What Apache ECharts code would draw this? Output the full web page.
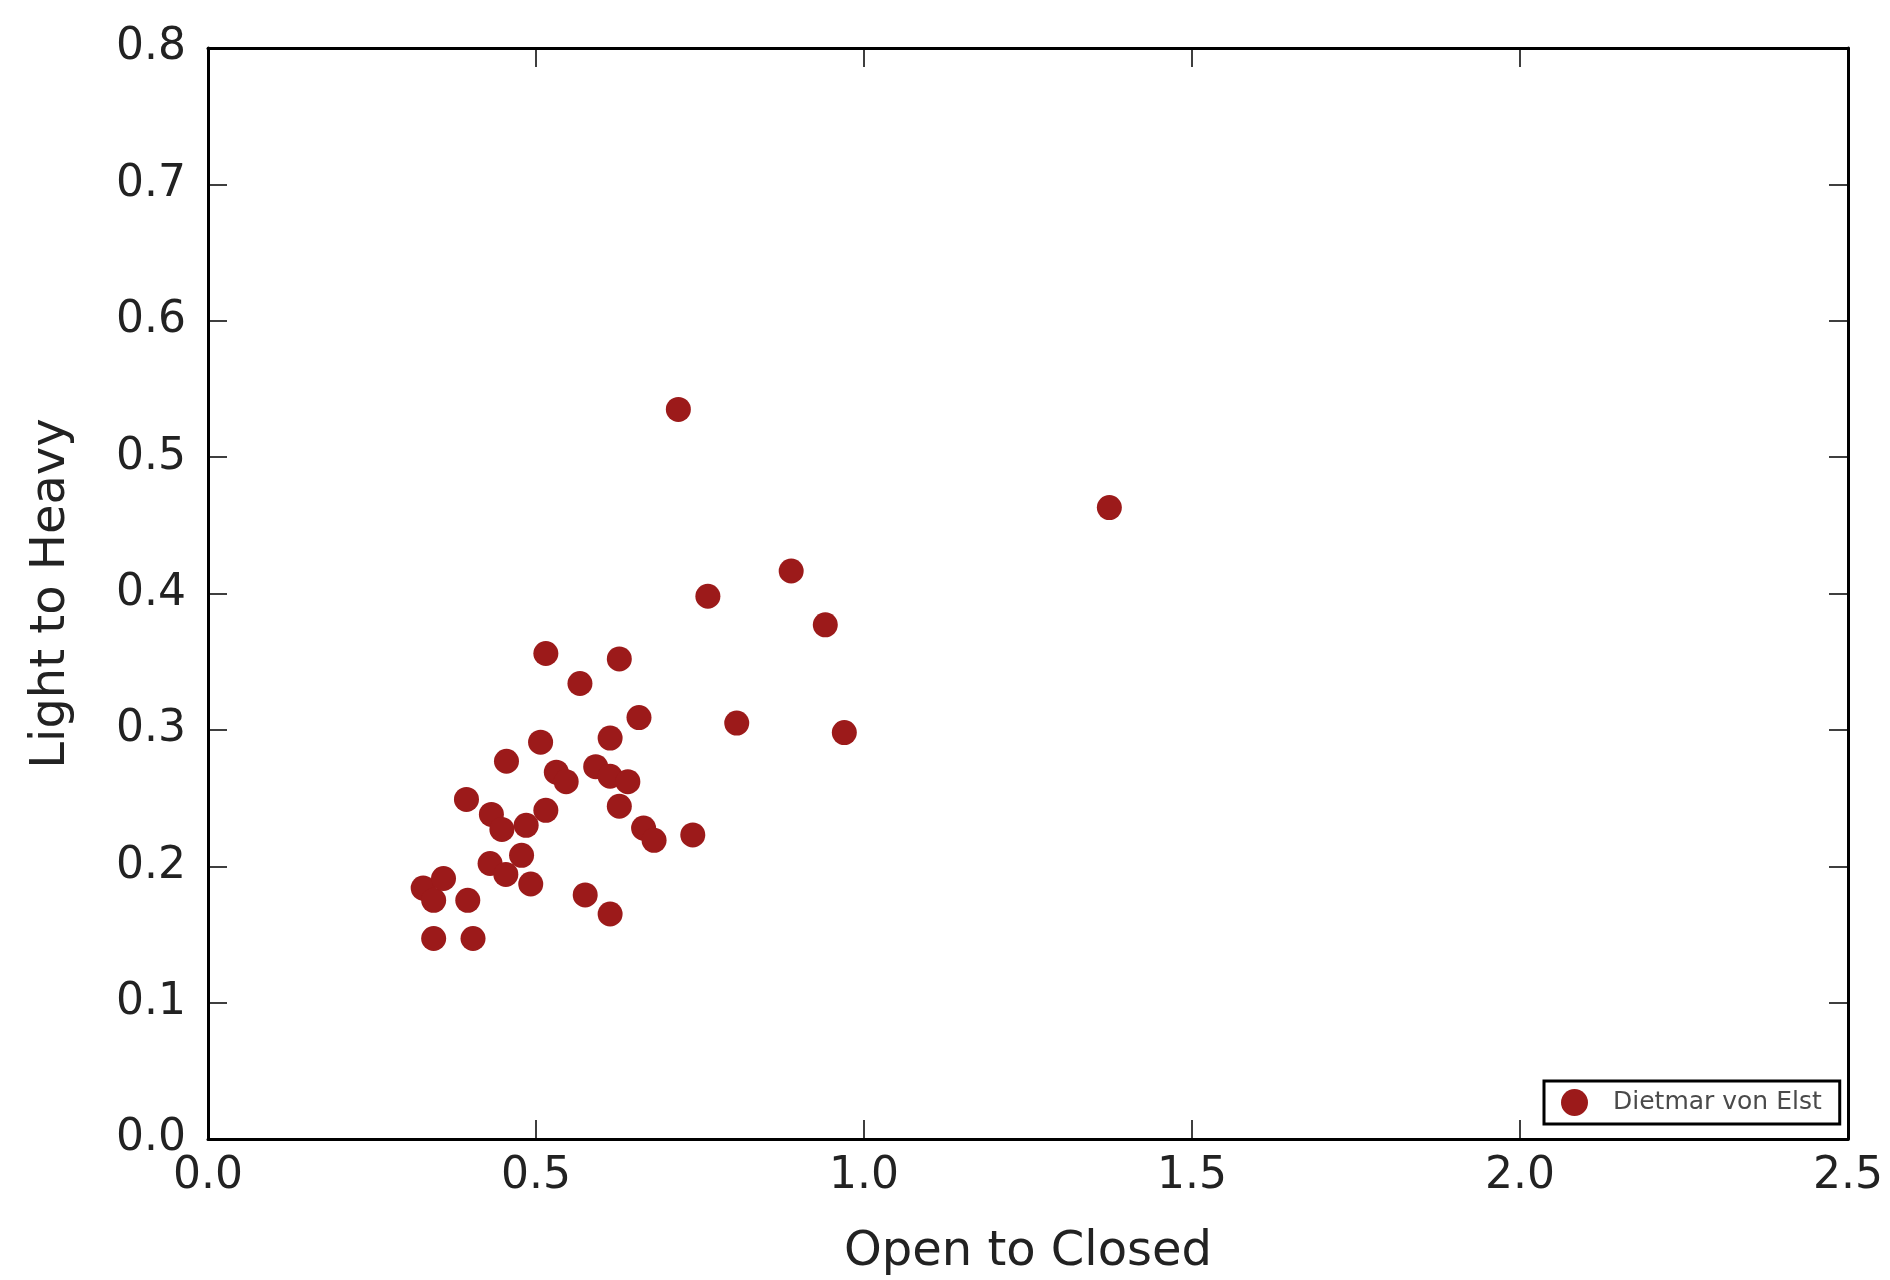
<!DOCTYPE html>
<html>
<head>
<meta charset="utf-8">
<script src="https://cdn.jsdelivr.net/npm/echarts@6/dist/echarts.min.js"></script>
<style>
html,body{margin:0;padding:0;background:#fff;}
#chart{width:1890px;height:1280px;}
</style>
</head>
<body>
<div id="chart"></div>
<script>
// Open to Closed (x) values
const openToClosed = [
  0.717, 1.374, 0.889, 0.762, 0.941, 0.515, 0.627, 0.567, 0.657, 0.806,
  0.970, 0.507, 0.613, 0.455, 0.531, 0.546, 0.591, 0.613, 0.640, 0.627,
  0.394, 0.432, 0.448, 0.485, 0.515, 0.664, 0.680, 0.739, 0.430, 0.454,
  0.478, 0.492, 0.575, 0.613, 0.328, 0.344, 0.359, 0.396, 0.344, 0.404
];
// Light to Heavy (y) values
const lightToHeavy = [
  0.535, 0.463, 0.4165, 0.398, 0.377, 0.356, 0.352, 0.334, 0.309, 0.305,
  0.298, 0.291, 0.294, 0.277, 0.269, 0.262, 0.273, 0.266, 0.262, 0.244,
  0.249, 0.238, 0.227, 0.230, 0.241, 0.228, 0.219, 0.223, 0.202, 0.194,
  0.208, 0.187, 0.179, 0.165, 0.184, 0.175, 0.191, 0.175, 0.147, 0.147
];
const seriesName = 'Dietmar von Elst';
const xTitle = 'Open to Closed';
const yTitle = 'Light to Heavy';
const xRange = [0, 2.5, 0.5];
const yRange = [0, 0.8, 0.1];

const points = openToClosed.map((x, i) => [x, lightToHeavy[i]]);
const FONT = 'DejaVu Sans';
const RED = '#9c1a1a';

const chart = echarts.init(document.getElementById('chart'), null, {renderer: 'canvas'});

const frameLine = {show: true, onZero: false, lineStyle: {color: '#000', width: 3}};
const tickIn = {show: true, inside: true, length: 19, lineStyle: {color: '#000', width: 1.5}};

chart.setOption({
  backgroundColor: '#fff',
  animation: false,
  grid: {left: 208, right: 42, top: 48, bottom: 141, containLabel: false, outerBoundsMode: 'none'},
  legend: {
    show: true,
    data: [{name: seriesName, icon: 'circle'}],
    left: 1544, top: 1081,
    orient: 'horizontal',
    itemWidth: 27, itemHeight: 27,
    padding: [8, 18, 8, 17],
    borderColor: '#000', borderWidth: 3, borderRadius: 0,
    backgroundColor: '#fff',
    textStyle: {fontFamily: FONT, fontSize: 25, color: '#4a4a4a', padding: [0, 0, 0, 20]},
    itemStyle: {color: RED}
  },
  xAxis: [{
    type: 'value', position: 'bottom',
    min: xRange[0], max: xRange[1], interval: xRange[2],
    name: xTitle, nameLocation: 'middle', nameGap: 90,
    nameTextStyle: {fontFamily: FONT, fontSize: 48, color: '#222'},
    axisLine: frameLine, axisTick: tickIn, splitLine: {show: false},
    axisLabel: {fontFamily: FONT, fontSize: 44, color: '#222', margin: 16,
      formatter: v => v.toFixed(1)}
  }, {
    type: 'value', position: 'top',
    min: xRange[0], max: xRange[1], interval: xRange[2],
    axisLine: frameLine, axisTick: tickIn, splitLine: {show: false},
    axisLabel: {show: false}
  }],
  yAxis: [{
    type: 'value', position: 'left',
    min: yRange[0], max: yRange[1], interval: yRange[2],
    name: yTitle, nameLocation: 'middle', nameGap: 132,
    nameTextStyle: {fontFamily: FONT, fontSize: 48, color: '#222'},
    axisLine: frameLine, axisTick: tickIn, splitLine: {show: false},
    axisLabel: {fontFamily: FONT, fontSize: 44, color: '#222', margin: 22,
      formatter: v => v.toFixed(1)}
  }, {
    type: 'value', position: 'right',
    min: yRange[0], max: yRange[1], interval: yRange[2],
    axisLine: frameLine, axisTick: tickIn, splitLine: {show: false},
    axisLabel: {show: false}
  }],
  series: [{
    name: seriesName,
    type: 'scatter',
    xAxisIndex: 0, yAxisIndex: 0,
    symbol: 'circle', symbolSize: 25,
    itemStyle: {color: RED, opacity: 1},
    data: points
  }]
});
</script>
</body>
</html>
